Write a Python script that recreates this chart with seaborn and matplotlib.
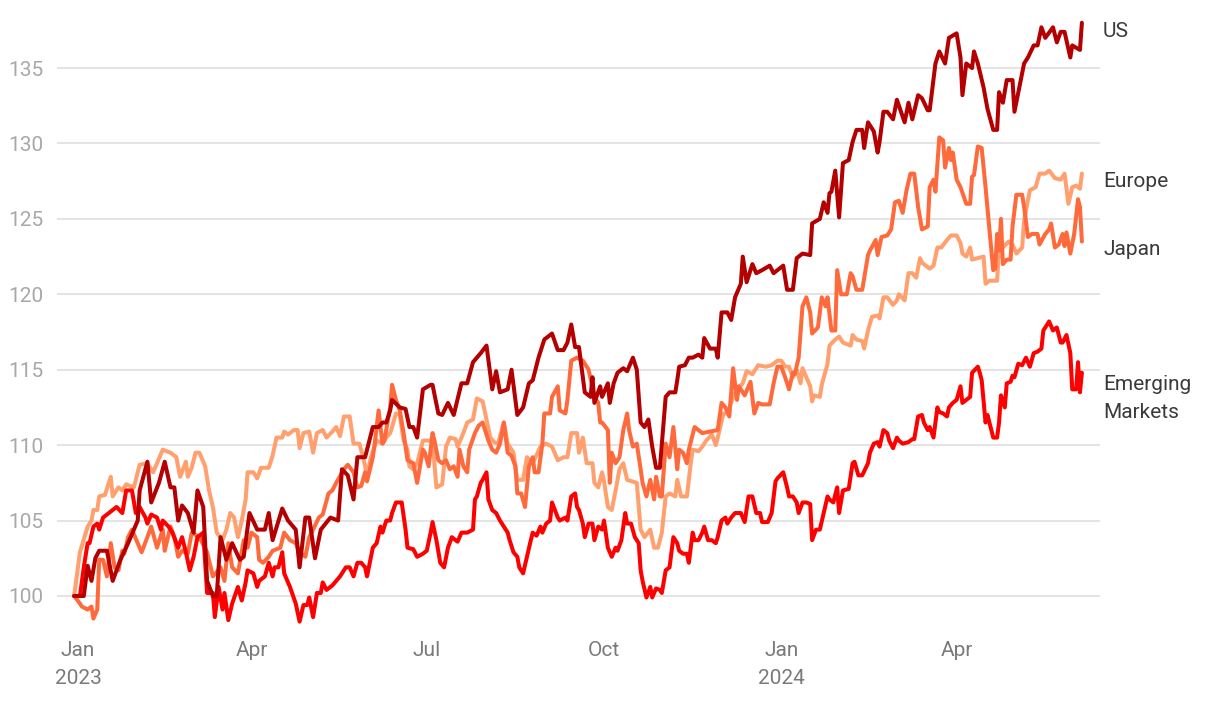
import pandas as pd
import seaborn as sns
import matplotlib.pyplot as plt

# (days since 1 Jan 2023, index value)
us = [(-2, 100), (3, 100), (5, 102), (7, 101), (9, 102.5), (11, 103), (15, 103), (18, 101),
      (22, 102.4), (26, 103.5), (31, 105), (32, 107), (36, 108.9), (38, 106.2), (42, 107.5),
      (45, 108.9), (48, 107.2), (50, 107.2), (52, 105), (54, 106), (57, 105.5), (60, 104.2),
      (62, 107), (65, 105.9), (67, 101), (70, 100), (72, 100), (74, 103.9), (77, 102.4),
      (80, 103.5), (84, 102.4), (86, 102.6), (89, 105.5), (93, 104.4), (97, 104.4), (99, 105.5),
      (101, 103.7), (106, 105.8), (109, 105), (113, 104.4), (115, 101.9), (118, 105.2),
      (120, 105.2), (123, 102.5), (126, 104.4), (131, 105.2), (135, 105), (137, 108.4),
      (140, 108), (143, 106.4), (145, 109.2), (149, 109.2), (153, 111.2), (156, 111.2),
      (158, 111.5), (160, 111.5), (162, 112.3), (163, 113), (167, 112.5), (170, 112.4),
      (172, 111.2), (174, 111.2), (176, 110.5), (179, 113.7), (183, 114), (184, 114),
      (187, 112.1), (189, 112), (192, 112.8), (195, 112), (199, 114.1), (202, 114.1),
      (205, 115.5), (209, 116.1), (212, 116.6), (215, 113.7), (217, 114.9), (219, 113.5),
      (223, 113.7), (225, 115), (228, 112), (231, 112.5), (234, 114.1), (236, 114.3),
      (239, 115.8), (242, 117), (246, 117.4), (249, 116.3), (252, 116.3), (254, 116.8),
      (256, 118), (258, 116.5), (260, 116.5), (263, 113.5), (266, 113.2), (267, 114.5),
      (268, 112.8), (271, 113.9), (272, 113.2), (275, 114.1), (276, 112.8), (278, 114.1),
      (280, 114.8), (283, 115.1), (285, 114.9), (288, 115.8), (290, 115), (292, 111.5),
      (294, 111.2), (296, 111.7), (298, 109.9), (300, 108.5), (302, 108.5), (305, 113.2),
      (307, 113.5), (310, 113.5), (311, 114.3), (312, 115.2), (315, 115.3), (317, 115.8),
      (319, 115.8), (322, 116), (324, 115.8), (325, 117.1), (328, 116.4), (331, 116.4),
      (332, 115.8), (334, 118.8), (337, 118.8), (339, 118.3), (341, 119.8), (344, 120.7),
      (345, 122.5), (347, 120.8), (349, 121.6), (350, 122), (352, 121.4), (355, 121.6),
      (359, 121.9), (361, 121.4), (366, 121.9), (368, 120.3), (371, 120.3), (373, 122.4),
      (376, 122.7), (380, 122.6), (381, 124.7), (385, 125), (387, 126.1), (389, 125.4),
      (390, 126.7), (391, 126.8), (393, 128.2), (395, 125.1), (397, 128.7), (400, 128.9),
      (402, 130.1), (404, 130.9), (407, 130.9), (408, 129.7), (410, 131.4), (413, 130.8),
      (415, 129.4), (416, 130.1), (418, 132.1), (420, 132.1), (423, 131.6), (425, 132.9),
      (429, 131.4), (431, 132.7), (433, 131.6), (436, 133.2), (438, 133), (441, 132.2),
      (442, 132.2), (445, 135.3), (447, 136.1), (450, 135.3), (452, 137), (456, 137.3),
      (458, 135.7), (459, 133.2), (461, 135.3), (464, 135), (465, 136.1), (467, 135.3),
      (470, 133.7), (472, 132.3), (475, 130.9), (477, 130.9), (478, 133.4), (480, 132.7),
      (482, 134.2), (485, 134.2), (486, 132.1), (489, 134), (491, 135.3), (493, 135.7),
      (496, 136.5), (498, 136.5), (500, 137.7), (502, 137), (506, 137.7), (508, 136.7),
      (510, 137.4), (512, 137.4), (515, 135.7), (516, 136.5), (520, 136.2), (521, 138)]

europe = [(-2, 100), (1, 102.9), (5, 104.6), (7, 105), (8, 105.7), (10, 105.7), (11, 106.6),
          (14, 106.7), (17, 107.9), (18, 106.6), (21, 107.2), (23, 107), (25, 107.4), (29, 107.2),
          (32, 108.7), (36, 108.8), (39, 108.2), (41, 108.8), (44, 109.7), (48, 109.5),
          (51, 109.2), (53, 107.9), (56, 108.9), (57, 107.9), (59, 108.5), (61, 109.5),
          (63, 109.5), (66, 108.6), (68, 107), (70, 105.9), (72, 104.2), (75, 103.7), (77, 104.4),
          (79, 105.5), (81, 105.2), (83, 103.9), (85, 105), (87, 106.4), (88, 108.2), (91, 108.2),
          (93, 107.8), (95, 108.5), (99, 108.5), (101, 109.3), (103, 110.5), (106, 110.5),
          (107, 110.9), (109, 110.7), (112, 111), (114, 111), (115, 109.8), (117, 110.8),
          (120, 110.9), (122, 109.5), (124, 110.8), (127, 111), (129, 110.5), (132, 110.9),
          (134, 111.2), (136, 110.6), (138, 111.9), (141, 111.9), (143, 110.1), (146, 110.1),
          (148, 109.2), (150, 108), (152, 109.2), (155, 110.3), (158, 110.1), (160, 110.5),
          (162, 110.8), (163, 111.2), (165, 112.1), (167, 112), (169, 110.3), (171, 109.7),
          (172, 108.6), (174, 108.4), (176, 108.8), (179, 110.3), (184, 110.3), (186, 107.2),
          (189, 107.4), (191, 109.9), (193, 110.5), (196, 110.4), (197, 109.9), (200, 110.8),
          (202, 111.5), (205, 111.7), (207, 113.1), (210, 112.9), (212, 111.7), (214, 110.5),
          (216, 110.2), (218, 110.1), (221, 111.5), (223, 110.1), (226, 109.5), (228, 107.7),
          (231, 107.7), (233, 109.2), (236, 108.8), (240, 109.9), (243, 110.1), (246, 109.9),
          (249, 109), (252, 109.2), (254, 109.2), (256, 110.8), (259, 110.8), (260, 109.5),
          (262, 110.5), (264, 108.8), (267, 108.8), (268, 107.5), (270, 107.2), (272, 108.2),
          (273, 107.6), (275, 105.9), (277, 105.7), (279, 107), (281, 108.4), (283, 108.8),
          (285, 107.7), (290, 107.5), (292, 104.4), (294, 103.9), (297, 104.4), (299, 103.2),
          (301, 103.2), (303, 104.2), (305, 106.6), (307, 106.8), (310, 106.6), (311, 107.7),
          (313, 106.6), (316, 106.6), (318, 108.8), (319, 109.7), (322, 109.6), (324, 109.9),
          (326, 110.3), (329, 110.7), (331, 110), (332, 110.5), (335, 112.1), (337, 112.1),
          (340, 113.2), (342, 113.7), (345, 114.1), (347, 114.9), (350, 114.7), (353, 115.3),
          (357, 115.2), (360, 115.3), (363, 115.6), (365, 115.6), (367, 115.2), (369, 115.2),
          (371, 114.5), (373, 115), (375, 114.1), (376, 115.1), (378, 114.5), (380, 113.9),
          (381, 112.9), (382, 113.3), (385, 113.2), (386, 114), (389, 115.4), (390, 116.6),
          (393, 117), (395, 117.2), (397, 116.8), (401, 116.6), (402, 117.3), (404, 117),
          (407, 116.9), (408, 116.4), (410, 117.6), (412, 118.5), (415, 118.6), (416, 118.4),
          (418, 119.8), (420, 119.8), (423, 119.3), (425, 119.6), (426, 120), (429, 119.6),
          (431, 121.4), (433, 121.4), (435, 121.1), (437, 122.4), (438, 122.1), (441, 121.8),
          (442, 121.7), (444, 121.9), (446, 123.1), (448, 123.1), (451, 123.6), (453, 123.9),
          (456, 123.9), (458, 123.4), (459, 122.7), (461, 122.5), (463, 123.1), (464, 122.3),
          (467, 122.4), (470, 122.5), (471, 120.7), (473, 120.9), (477, 120.9), (478, 123.1),
          (480, 123.1), (483, 123.5), (485, 123.3), (487, 122.7), (490, 123.1), (491, 124.9),
          (494, 126.9), (497, 127.1), (499, 128), (502, 128), (504, 128.2), (507, 127.7),
          (510, 127.6), (512, 128), (514, 126), (516, 127.1), (518, 127.2), (520, 127),
          (521, 128)]

japan = [(-2, 100), (1, 99.5), (2, 99.3), (5, 99.1), (7, 99.3), (8, 98.5), (10, 99.1),
         (11, 102.4), (13, 102.4), (15, 101.3), (17, 103.5), (19, 101.9), (21, 101.7), (23, 103),
         (24, 102.8), (26, 103.9), (28, 104.4), (31, 103.5), (33, 102.9), (36, 103.9),
         (38, 104.6), (41, 103.2), (44, 104.4), (45, 103), (48, 104.6), (50, 103.9), (52, 102.6),
         (54, 103), (57, 102.8), (59, 104.2), (63, 103.9), (67, 102.9), (70, 101.3), (74, 101.9),
         (76, 101), (78, 103.5), (80, 101.9), (83, 101.5), (86, 103.7), (88, 103.2), (90, 104.2),
         (93, 103.9), (94, 102.4), (96, 102.2), (99, 102.6), (101, 103), (105, 103.2),
         (107, 104.2), (110, 103.7), (113, 103.5), (115, 102.9), (118, 102.6), (120, 103.9),
         (122, 104.4), (125, 105.2), (127, 105.4), (130, 106.8), (132, 107), (134, 107.5),
         (138, 108.4), (140, 108.7), (143, 108.2), (145, 107.2), (147, 107.3), (149, 108.2),
         (150, 107.6), (153, 109.2), (154, 110.1), (156, 112.3), (158, 110.1), (159, 110.3),
         (162, 112.5), (163, 114), (165, 113), (167, 112.3), (169, 110.8), (171, 109),
         (174, 108.8), (176, 107.5), (179, 109.7), (180, 109.5), (182, 108.6), (184, 110.8),
         (185, 110.3), (187, 109), (189, 108.8), (191, 109), (193, 108.4), (195, 108.6),
         (197, 107.9), (198, 109.7), (200, 108.6), (202, 108.2), (203, 109.7), (206, 110.8),
         (208, 111.3), (210, 111.5), (213, 110.3), (215, 109.7), (217, 109.5), (219, 110.1),
         (221, 111.5), (223, 109.5), (225, 109.3), (227, 108.6), (228, 106.8), (230, 106.8),
         (232, 105.9), (234, 108.6), (236, 109.2), (237, 108.2), (239, 108.2), (241, 110.1),
         (242, 112.1), (245, 112.1), (246, 113.2), (249, 113.9), (250, 112.3), (253, 112.1),
         (254, 113), (256, 115.6), (259, 115.8), (262, 115.6), (265, 115), (268, 113.2),
         (270, 112.8), (271, 111.5), (272, 111.5), (275, 111), (276, 107.5), (277, 109.5),
         (279, 108.8), (281, 109.2), (283, 111), (285, 112.1), (286, 111), (288, 109.9),
         (290, 110.1), (292, 108.4), (293, 107.5), (295, 106.6), (297, 107.7), (299, 106.4),
         (300, 107.9), (302, 106.6), (303, 106.6), (305, 110.1), (307, 109.2), (309, 111.2),
         (311, 108.4), (312, 109.7), (314, 109.5), (316, 108.8), (317, 109.7), (320, 111.2),
         (322, 111), (324, 110.8), (328, 110.9), (332, 111), (334, 112.8), (336, 112.5),
         (338, 111.9), (340, 115.1), (342, 113), (343, 113.9), (346, 113.3), (349, 114.2),
         (351, 112.1), (353, 112.8), (355, 112.7), (359, 112.7), (361, 114.1), (363, 115.2),
         (365, 115.2), (367, 114.5), (369, 113.7), (371, 114.8), (372, 114.7), (374, 115.8),
         (376, 119.2), (378, 119.8), (380, 118.8), (381, 117.4), (384, 117.8), (386, 119.8),
         (388, 119.2), (389, 119.8), (391, 117.6), (393, 117.6), (394, 121.6), (396, 120),
         (399, 120), (401, 121.4), (402, 121.2), (404, 120.3), (407, 120.3), (410, 122.6),
         (411, 122.9), (414, 123.6), (415, 122.6), (417, 123.8), (420, 123.9), (422, 124.3),
         (424, 126.1), (426, 126.2), (428, 125.4), (430, 126.9), (432, 128), (434, 128),
         (436, 125.8), (438, 124.3), (441, 124.5), (442, 127.1), (444, 127.6), (445, 126.8),
         (447, 130.4), (449, 130.2), (450, 128.4), (452, 129.7), (453, 128.9), (454, 129.4),
         (456, 127.6), (458, 127.1), (461, 126), (463, 126), (464, 127.8), (465, 127.9),
         (467, 129.8), (469, 129.7), (471, 127.1), (473, 124.3), (475, 121.6), (476, 121.7),
         (477, 124), (478, 122.9), (479, 125), (480, 122), (482, 122.3), (484, 122.3),
         (485, 124.5), (487, 126.6), (490, 126.6), (491, 125.8), (493, 123.8), (495, 124),
         (498, 124), (499, 123.3), (502, 124), (504, 124.3), (505, 124.7), (507, 123.1),
         (509, 123.3), (511, 124), (512, 123.2), (513, 124.1), (515, 122.7), (517, 124),
         (519, 126.3), (520, 125.8), (521, 123.5)]

emerging = [(-2, 100), (1, 100), (3, 101.9), (5, 103.5), (6, 103.5), (8, 104.6), (10, 104.8),
            (11, 104.4), (13, 105.2), (16, 105.5), (18, 105.7), (20, 105.9), (23, 105.5),
            (25, 107), (28, 107), (30, 105.5), (32, 105.9), (35, 105.2), (36, 104.8), (38, 105.4),
            (41, 105.2), (43, 104.4), (44, 105), (47, 104.6), (49, 104.2), (52, 103.2),
            (54, 103.9), (56, 102.9), (58, 101.7), (60, 102.6), (62, 103.9), (65, 104.2),
            (67, 100.2), (70, 100.2), (71, 98.6), (73, 100.6), (75, 99.1), (76, 100.2), (78, 98.4),
            (80, 99.5), (83, 100.6), (85, 99.7), (87, 100.9), (88, 101.7), (91, 101.5),
            (93, 100.6), (94, 101), (97, 101.3), (99, 102.2), (101, 101.3), (102, 101.9),
            (104, 101.9), (106, 102.9), (107, 101.5), (110, 100.6), (113, 99.5), (115, 98.3),
            (117, 99.4), (119, 99.4), (120, 99.9), (122, 98.6), (124, 100.2), (126, 100.2),
            (127, 100.9), (129, 100.4), (132, 100.7), (134, 101), (136, 101.3), (139, 101.9),
            (141, 101.9), (143, 101.3), (145, 102.2), (147, 102.2), (149, 101.9), (150, 101.3),
            (153, 103.2), (155, 103.5), (157, 104.6), (158, 104.2), (160, 105), (162, 105),
            (163, 105.5), (165, 106.2), (168, 106.2), (170, 104.4), (171, 103.2), (174, 103.1),
            (176, 102.6), (179, 102.8), (181, 103), (183, 104.2), (184, 104.9), (186, 103.7),
            (188, 102.2), (190, 101.9), (192, 103.2), (194, 103.9), (197, 103.6), (199, 104.2),
            (202, 104.2), (205, 104.4), (206, 106.4), (207, 106.6), (209, 107.5), (210, 107.7),
            (212, 108.2), (213, 106.4), (215, 105.7), (217, 105.5), (219, 105), (221, 104.6),
            (223, 104.2), (224, 103.7), (226, 102.9), (228, 102.6), (229, 101.9), (231, 101.5),
            (233, 102.6), (235, 103.7), (236, 104.2), (238, 104), (240, 104.6), (241, 104.2),
            (243, 104.8), (245, 105), (246, 106.2), (249, 105.2), (250, 105), (253, 105.2),
            (254, 105), (256, 106.6), (258, 106.8), (259, 105.9), (260, 105.7), (262, 104.8),
            (263, 103.9), (265, 104.8), (267, 104.8), (268, 103.7), (270, 104.6), (272, 104.4),
            (273, 105), (275, 103.2), (277, 102.6), (279, 103.2), (280, 103), (282, 103.7),
            (284, 105.5), (285, 104.8), (287, 104.8), (289, 103.9), (291, 103.5), (292, 101.7),
            (293, 101), (295, 99.9), (297, 100.6), (298, 99.9), (300, 100.5), (302, 100.4),
            (303, 100.2), (305, 101.7), (307, 101.9), (309, 103.9), (311, 103.5), (312, 103),
            (314, 102.8), (316, 102.8), (317, 102.2), (319, 104.2), (320, 103.7), (322, 103.7),
            (324, 104.2), (325, 104.6), (327, 103.7), (329, 103.7), (331, 103.5), (332, 103.9),
            (334, 105), (336, 105.2), (337, 104.8), (339, 105.2), (341, 105.5), (342, 105.5),
            (344, 105.5), (346, 104.9), (348, 106.6), (350, 106.6), (352, 105.5), (354, 105.5),
            (355, 104.9), (358, 104.9), (360, 105.5), (362, 107.6), (363, 107.8), (366, 108.2),
            (368, 107.2), (369, 106.6), (371, 106.6), (373, 106.2), (374, 105.5), (376, 106.2),
            (378, 106.2), (380, 106.1), (381, 103.7), (383, 104.4), (385, 104.4), (387, 105.5),
            (389, 106.6), (390, 106.4), (392, 106.2), (394, 107.2), (395, 105.5), (397, 107),
            (400, 107.1), (402, 108.8), (403, 108.9), (405, 108), (407, 108), (410, 108.8),
            (411, 109.5), (413, 110.1), (415, 110.2), (416, 109.9), (418, 111), (420, 110.8),
            (421, 110.3), (423, 109.8), (425, 110.5), (426, 110.3), (428, 110.1), (431, 110.2),
            (433, 110.4), (434, 110.4), (436, 111.9), (438, 112), (439, 111.5), (441, 111),
            (442, 111.2), (444, 110.5), (446, 112.5), (447, 112.2), (449, 112.1), (451, 111.9),
            (452, 112.5), (454, 112.8), (456, 113), (458, 113.9), (459, 112.8), (461, 113),
            (463, 113.2), (464, 114.8), (467, 115.2), (468, 114.8), (469, 114.3), (471, 111.5),
            (472, 112), (475, 110.5), (477, 110.5), (478, 111.5), (479, 113.3), (481, 112.5),
            (482, 114.1), (484, 114.2), (485, 114.6), (486, 114.5), (488, 115.4), (490, 115.3),
            (492, 115.8), (494, 115.2), (496, 116.1), (498, 116.2), (500, 116.4), (501, 117.6),
            (503, 118), (504, 118.2), (506, 117.6), (508, 117.8), (510, 116.8), (511, 116.8),
            (513, 117.3), (515, 116.1), (516, 113.7), (518, 113.7), (519, 115.5), (520, 113.5),
            (521, 114.8)]

series_order = ['Europe', 'Japan', 'Emerging Markets', 'US']
palette = {'US': '#b40000', 'Europe': '#ffa06e', 'Japan': '#ff6a3c', 'Emerging Markets': '#ff0000'}
end_labels = {'US': 137.4, 'Europe': 127.5, 'Japan': 123.0, 'Emerging Markets': 113.1}
tick_dates = ['2023-01-01', '2023-04-01', '2023-07-01', '2023-10-01', '2024-01-01', '2024-04-01']
tick_labels = ['Jan\n2023', 'Apr', 'Jul', 'Oct', 'Jan\n2024', 'Apr']

base = pd.Timestamp('2023-01-01')


def to_frame(name, pairs):
    df = pd.DataFrame(pairs, columns=['day', 'value'])
    df['date'] = base + pd.to_timedelta(df['day'], unit='D')
    df['series'] = name
    return df


data = pd.concat([to_frame('US', us), to_frame('Europe', europe),
                  to_frame('Japan', japan), to_frame('Emerging Markets', emerging)])

sns.set_style('white')
plt.rcParams['font.family'] = ['Roboto', 'DejaVu Sans']

fig = plt.figure(figsize=(12.2, 7.08), dpi=100)
ax = fig.add_axes([57 / 1220, 1 - 633.7 / 708, (1100 - 57) / 1220, (633.7 - 7.7) / 708])

sns.lineplot(data=data, x='date', y='value', hue='series', hue_order=series_order,
             palette=palette, estimator=None, linewidth=2.9, legend=False, ax=ax)

ax.set_xlim(base - pd.Timedelta(days=10.9), base + pd.Timedelta(days=530.4))
ax.set_ylim(97.5, 139)
ax.set_yticks(range(100, 136, 5))
ax.yaxis.grid(True, color='#e2e2e2', linewidth=1.3)
ax.xaxis.grid(False)
for s in ax.spines.values():
    s.set_visible(False)

ax.set_xticks(pd.to_datetime(tick_dates))
ax.set_xticklabels(tick_labels, linespacing=1.6)
ax.tick_params(axis='both', length=0, labelsize=15)
ax.tick_params(axis='y', colors='#a8a8a8', pad=10)
ax.tick_params(axis='x', colors='#7a7a7a', pad=5)
ax.set_xlabel('')
ax.set_ylabel('')

for name, yv in end_labels.items():
    label = 'Emerging\nMarkets' if name == 'Emerging Markets' else name
    ax.text(base + pd.Timedelta(days=532), yv, label, color='#3a3a3a', fontsize=15,
            ha='left', va='center', linespacing=1.6, clip_on=False)

fig.savefig('out.png', dpi=100)
